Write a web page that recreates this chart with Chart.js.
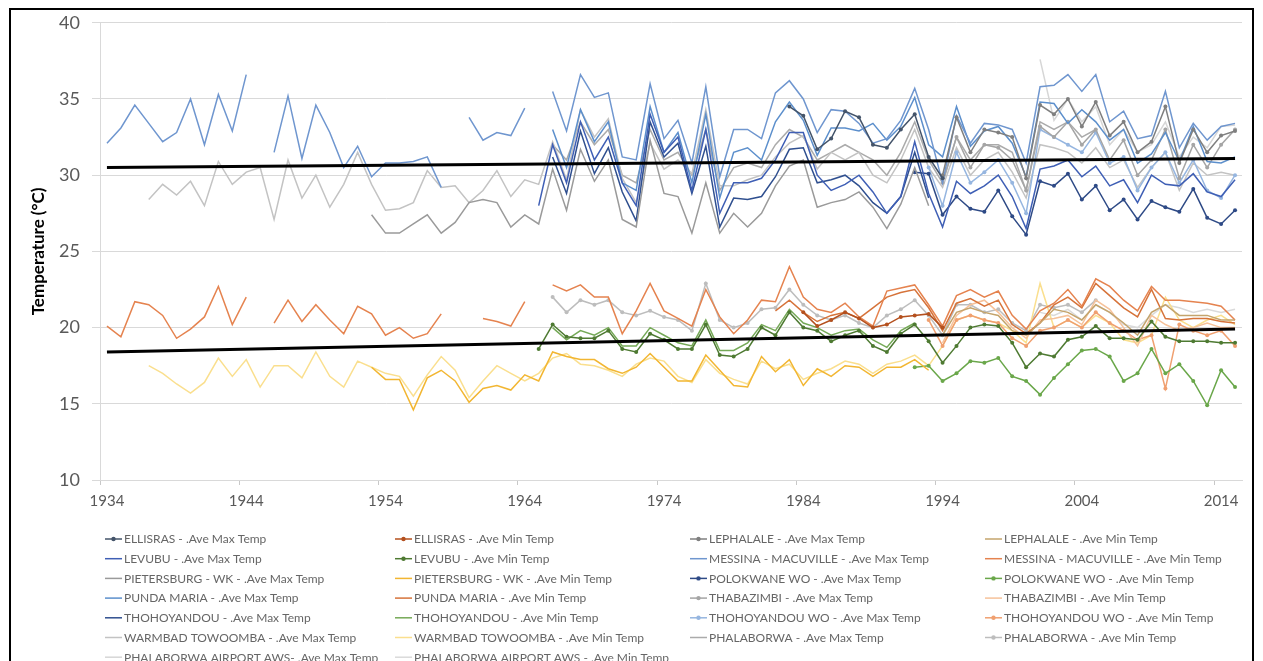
<!DOCTYPE html>
<html>
<head>
<meta charset="utf-8">
<script src="https://cdn.jsdelivr.net/npm/chart.js@4.4.1/dist/chart.umd.min.js"></script>
<style>
  html, body { margin: 0; padding: 0; background: #fff; }
  canvas { display: block; }
</style>
</head>
<body>
<canvas id="tempChart" width="1263" height="661" style="width:1263px;height:661px"></canvas>
<script>
const firstYear = 1934;
const lastYear = 2015;
const years = [];
for (let y = firstYear; y <= lastYear; y++) years.push(String(y));

// pad a series that starts later than 1934 with nulls
function from(start, values) {
  const out = new Array(years.length).fill(null);
  values.forEach((v, i) => {
    const idx = start - firstYear + i;
    if (idx < out.length) out[idx] = v;
  });
  return out;
}

// ---- Ave Max Temp series ----
const ellisrasMax = from(1983, [34.5, 33.9, 31.7, 32.4, 34.2, 33.8, 32.0, 31.8, 33.0, 34.0, 31.2, 29.8]);
const lephalaleMax = from(1994, [30.0, 33.8, 31.5, 33.0, 32.8, 32.5, 29.8, 34.6, 34.0, 35.0, 33.2, 34.8, 32.6, 33.5, 31.5, 32.2, 34.5, 30.8, 33.0, 31.5, 32.6, 32.9]);
const levubuMax = from(1965, [28.0, 32.0, 29.5, 33.5, 31.0, 32.5, 29.5, 28.0, 34.0, 31.5, 32.5, 29.0, 33.0, 27.5, 29.5, 29.5, 29.8, 31.0, 32.8, 32.8, 30.0,
  29.0, 29.4, 30.0, 28.9, 27.5, 28.6, 32.2, 28.8, 26.6, 29.6, 28.8, 29.3, 30.0, 28.6, 26.5, 30.4, 30.6, 31.0, 29.9, 30.6, 29.3, 29.7, 28.2, 30.0, 29.4, 29.3, 30.1, 28.9, 28.6, 29.7]);
const messinaMax = from(1934, [32.1, 33.1, 34.6, 33.4, 32.2, 32.8, 35.0, 32.0, 35.3, 32.9, 36.6, null,
  31.5, 35.2, 31.1, 34.6, 32.8, 30.5, 31.9, 29.9, 30.8, 30.8, 30.9, 31.2, 29.2, null,
  33.8, 32.3, 32.8, 32.6, 34.4, null,
  35.5, 32.9, 36.6, 35.1, 35.4, 31.2, 31.0, 36.0, 32.4, 33.6, 30.8, 35.8, 29.9, 33.0, 33.0, 32.4, 35.4, 36.2, 35.0, 32.8,
  34.3, 34.2, 33.4, 32.1, 32.4, 33.6, 35.7, 33.0, 29.5, 33.9, 32.1, 33.4, 33.3, 33.0, 30.8, 35.8, 35.9, 36.6, 35.5, 36.6, 33.5, 34.2, 32.4, 32.6, 35.5, 31.8, 33.4, 32.3, 33.2, 33.4]);
const pietersburgMax = from(1953, [27.4, 26.2, 26.2, 26.8, 27.4, 26.2, 26.9, 28.2, 28.4, 28.2, 26.6, 27.4, 26.8, 30.4, 27.7, 31.7, 29.6, 31.0, 27.1, 26.6,
  32.3, 28.8, 28.6, 26.2, 29.5, 26.2, 27.5, 26.6, 27.5, 29.3, 30.6, 31.0, 27.9, 28.2, 28.4, 28.9, 27.9, 26.5, 28.1, 30.5, 28.0]);
const polokwaneMax = from(1992, [30.2, 30.1, 27.4, 28.6, 27.8, 27.6, 29.0, 27.3, 26.1, 29.6, 29.3, 30.1, 28.4, 29.3, 27.7, 28.4, 27.1, 28.3, 27.9, 27.6, 29.1, 27.2, 26.8, 27.7]);
const pundaMariaMax = from(1966, [33.0, 30.5, 34.3, 32.2, 33.5, 29.5, 29.0, 34.5, 31.5, 32.8, 29.5, 34.0, 28.5, 31.5, 31.8, 31.0, 33.5, 34.8, 33.6, 31.3,
  33.1, 33.1, 32.9, 33.4, 32.3, 33.2, 35.1, 32.0, 31.2, 34.5, 31.9, 32.9, 33.2, 32.1, 29.9, 34.8, 34.7, 33.4, 34.3, 33.5, 32.3, 33.0, 30.8, 31.4, 32.8, 30.9, 33.2, 30.9, 30.8, 31.2]);
const thabazimbiMax = from(1994, [29.5, 32.5, 30.5, 32.0, 31.8, 31.0, 29.0, 33.2, 32.5, 33.5, 32.0, 33.0, 31.0, 32.3, 30.0, 31.0, 33.0, 29.8, 32.0, 30.5, 32.0, 33.0]);
const thohoyandouMax = from(1966, [31.2, 28.8, 32.9, 30.1, 31.8, 28.9, 27.0, 33.5, 31.2, 32.1, 28.8, 31.9, 26.6, 28.5, 28.4, 28.6, 29.9, 31.7, 31.8, 29.5,
  29.7, 30.0, 29.3, 28.2, 27.5, 28.6, 31.5, 28.5]);
const thohoyandouWoMax = from(1993, [30.5, 28.0, 31.5, 29.5, 30.2, 31.0, 29.5, 27.5, 33.0, 32.5, 32.0, 31.5, 32.8, 30.8, 31.2, 29.0, 30.5, 31.5, 29.5, 31.0, 29.0, 28.5, 30.0]);
const warmbadMax = from(1937, [28.4, 29.4, 28.7, 29.6, 28.0, 30.9, 29.4, 30.2, 30.5, 27.1, 31.0, 28.5, 30.0, 27.9, 29.4, 31.5, 29.4, 27.7, 27.8, 28.2, 30.3, 29.2,
  29.3, 28.2, 29.0,
  30.3, 28.6, 29.7, 29.4, 32.2, 29.7, 34.3, 32.5, 33.7, 29.8, 28.2, 32.1, 30.4, 31.0, 30.1, 34.3, 29.3, 29.3, 29.7, 30.0, 31.2, 32.1, 32.6, 30.4,
  31.5, 31.0, 31.5, 30.0, 29.5, 31.0, 33.0, 30.5, 29.2, 31.8, 30.0, 31.0, 31.5, 30.2, 28.5, 32.0, 31.8, 31.5, 30.8, 31.8, 30.5, 31.0, 29.2, 30.5, 31.5, 29.0, 30.8, 30.0, 30.2, 30.0]);
const phalaborwaMax = from(1966, [32.0, 31.0, 33.5, 32.0, 33.0, 30.0, 29.5, 33.0, 31.0, 31.5, 30.0, 33.0, 29.0, 30.5, 30.8, 30.5, 32.0, 33.0, 32.5, 31.0,
  31.5, 32.0, 31.5, 31.0, 30.0, 31.5, 33.5, 31.0, 29.5, 32.5, 31.0, 32.0, 32.0, 31.5, 29.0, 33.5, 33.0, 33.5, 32.5, 33.0]);
const phalaborwaAwsMax = from(2001, [37.6, 33.6, 35.0, 33.5, 34.5, 32.0, 33.0, 31.5, 32.0, 33.5, 31.2, 32.5, 31.8, 33.2, 33.3]);

// ---- Ave Min Temp series ----
const ellisrasMin = from(1984, [21.0, 20.1, 20.5, 21.0, 20.6, 20.0, 20.2, 20.7, 20.8, 20.9, 20.0]);
const lephalaleMin = from(1994, [19.5, 21.0, 21.3, 21.0, 20.8, 19.8, 19.5, 20.3, 21.2, 21.0, 20.5, 21.5, 21.0, 20.3, 19.5, 21.0, 21.5, 20.8, 20.8, 20.8, 20.5, 20.5]);
const levubuMin = from(1965, [18.6, 20.2, 19.4, 19.3, 19.3, 19.8, 18.6, 18.4, 19.6, 19.2, 18.6, 18.6, 20.2, 18.2, 18.1, 18.6, 20.0, 19.5, 21.0, 20.0, 19.8, 19.1, 19.5,
  19.8, 18.8, 18.4, 19.6, 20.2, 19.1, 17.7, 18.8, 20.0, 20.2, 20.1, 19.0, 17.4, 18.3, 18.1, 19.2, 19.4, 20.1, 19.3, 19.3, 19.2, 20.4, 19.4, 19.1, 19.1, 19.1, 19.0, 19.0]);
const messinaMin = from(1934, [20.1, 19.4, 21.7, 21.5, 20.8, 19.3, 19.9, 20.7, 22.7, 20.2, 22.0, null,
  20.3, 21.8, 20.4, 21.5, 20.5, 19.6, 21.4, 20.9, 19.5, 20.0, 19.3, 19.6, 20.9, null, null,
  20.6, 20.4, 20.1, 21.7, null,
  22.8, 22.4, 22.8, 22.0, 22.0, 19.6, 21.1, 22.9, 21.1, 20.6, 20.1, 22.5, 20.7, 19.6, 20.5, 21.8, 21.7, 24.0, 22.0, 21.2, 21.0, 21.6, 20.7, 20.1,
  22.4, 22.6, 22.8, 21.5, 20.1, 22.1, 22.5, 22.0, 22.4, 20.8, 19.9, 21.1, 21.6, 22.5, 21.4, 23.2, 22.7, 21.8, 21.1, 22.7, 21.8, 21.8, 21.7, 21.6, 21.4, 20.5]);
const pietersburgMin = from(1953, [17.4, 16.6, 16.6, 14.6, 16.7, 17.2, 16.5, 15.1, 16.0, 16.2, 15.9, 16.9, 16.5, 18.4, 18.1, 17.9, 17.9, 17.3, 17.0, 17.4,
  18.3, 17.4, 16.5, 16.5, 18.2, 17.2, 16.2, 16.1, 18.1, 17.1, 17.9, 16.2, 17.3, 16.8, 17.5, 17.4, 16.8, 17.4, 17.4, 17.9, 17.2]);
const polokwaneMin = from(1992, [17.4, 17.5, 16.5, 17.0, 17.8, 17.7, 18.0, 16.8, 16.5, 15.6, 16.7, 17.6, 18.5, 18.6, 18.1, 16.5, 17.0, 18.6, 17.0, 17.6, 16.5, 14.9, 17.2, 16.1]);
const pundaMariaMin = from(1982, [21.1, 21.8, 21.0, 20.4, 20.8, 21.0,
  20.6, 21.3, 22.0, 22.3, 22.5, 21.3, 19.8, 21.6, 21.9, 21.4, 21.8, 20.2, 19.6, 20.3, 21.5, 22.0, 21.3, 22.9, 22.1, 21.3, 20.7, 22.5, 20.6, 20.5, 20.6, 20.6, 20.4, 20.3]);
const thabazimbiMin = from(1994, [19.0, 20.8, 21.5, 21.8, 21.0, 20.0, 19.3, 20.5, 20.6, 20.8, 20.2, 21.8, 21.2, 20.0, 18.8, 20.8, 20.2, 19.8, 20.0, 20.3, 20.0, 20.0]);
const thohoyandouMin = from(1966, [20.0, 19.2, 19.8, 19.5, 20.0, 18.8, 18.8, 20.0, 19.5, 19.0, 18.8, 20.5, 18.5, 18.5, 19.0, 20.2, 19.8, 21.2, 20.3, 20.0,
  19.5, 19.8, 19.9, 19.2, 18.7, 19.8, 20.3]);
const thohoyandouWoMin = from(1993, [20.5, 18.8, 20.5, 20.8, 20.5, 20.3, 19.3, 18.8, 19.8, 20.0, 20.5, 20.0, 21.0, 20.3, 19.8, 19.2, 19.5, 16.0, 20.2, 19.8, 19.5, 19.8, 18.8]);
const warmbadMin = from(1937, [17.5, 17.0, 16.3, 15.7, 16.4, 18.0, 16.8, 17.9, 16.1, 17.5, 17.5, 16.7, 18.4, 16.8, 16.1, 17.8, 17.4,
  17.0, 16.8, 15.5, 16.9, 18.1, 17.2, 15.4, 16.5, 17.5, 17.0, 16.5, 17.0,
  18.0, 18.3, 17.6, 17.5, 17.2, 16.8, 17.6, 18.0, 17.8, 16.8, 16.4, 17.9, 17.0, 16.6, 16.3, 17.8, 17.3, 17.6, 16.6, 17.0, 17.3, 17.8, 17.6, 17.0, 17.6, 17.8, 18.2, 17.5,
  18.8, 20.5, 20.8, 20.5, 20.3, 19.8, 19.0, 22.9, 20.0, 20.5, 20.0, 20.8, 20.3, 19.2, 19.0, 19.5, 22.0, 20.5, 20.0, 20.5, 20.8, 20.2]);
const phalaborwaMin = from(1966, [22.0, 21.0, 21.8, 21.5, 21.8, 21.0, 20.8, 21.1, 20.7, 20.5, 19.8, 22.9, 20.5, 20.0, 20.3, 21.2, 21.3, 22.5, 21.5, 20.8,
  20.5, 20.8, 20.3, 20.0, 20.8, 21.2, 21.8, 20.8, 19.5, 21.5, 21.5, 21.0, 21.2, 20.3, 19.8, 21.5, 21.3, 21.5, 21.0, 21.8]);
const phalaborwaAwsMin = from(2001, [21.0, 20.8, 21.2, 20.5, 21.5, 21.0, 20.2, 20.0, 20.8, 21.5, 21.3, 21.0, 21.2, 21.0, 21.2]);

// linear trend end points (1934 -> 2015)
const maxTrendEnds = [30.5, 31.1];
const minTrendEnds = [18.4, 19.9];

// legend order = Excel series order
const series = [
  ["ELLISRAS - .Ave Max Temp", ellisrasMax, "#44546A", true],
  ["ELLISRAS - .Ave Min Temp", ellisrasMin, "#B4501E", true],
  ["LEPHALALE - .Ave Max Temp", lephalaleMax, "#7F7F7F", true],
  ["LEPHALALE - .Ave Min Temp", lephalaleMin, "#C4A46C", false],
  ["LEVUBU - .Ave Max Temp", levubuMax, "#3F5FB5", false],
  ["LEVUBU - .Ave Min Temp", levubuMin, "#4E7A32", true],
  ["MESSINA - MACUVILLE - .Ave Max Temp", messinaMax, "#6F96CF", false],
  ["MESSINA - MACUVILLE - .Ave Min Temp", messinaMin, "#E5834F", false],
  ["PIETERSBURG - WK - .Ave Max Temp", pietersburgMax, "#9A9A9A", false],
  ["PIETERSBURG - WK - .Ave Min Temp", pietersburgMin, "#F2B632", false],
  ["POLOKWANE WO - .Ave Max Temp", polokwaneMax, "#2E4A86", true],
  ["POLOKWANE WO - .Ave Min Temp", polokwaneMin, "#6AA74A", true],
  ["PUNDA MARIA - .Ave Max Temp", pundaMariaMax, "#5C8FCC", false],
  ["PUNDA MARIA - .Ave Min Temp", pundaMariaMin, "#D6733A", false],
  ["THABAZIMBI - .Ave Max Temp", thabazimbiMax, "#A5A5A5", true],
  ["THABAZIMBI - .Ave Min Temp", thabazimbiMin, "#F6C29A", false],
  ["THOHOYANDOU - .Ave Max Temp", thohoyandouMax, "#2F4F8F", false],
  ["THOHOYANDOU - .Ave Min Temp", thohoyandouMin, "#75A957", false],
  ["THOHOYANDOU WO - .Ave Max Temp", thohoyandouWoMax, "#96B6E0", true],
  ["THOHOYANDOU WO - .Ave Min Temp", thohoyandouWoMin, "#F0A070", true],
  ["WARMBAD TOWOOMBA - .Ave Max Temp", warmbadMax, "#C3C3C3", false],
  ["WARMBAD TOWOOMBA - .Ave Min Temp", warmbadMin, "#FADF8E", false],
  ["PHALABORWA - .Ave Max Temp", phalaborwaMax, "#ABABAB", false],
  ["PHALABORWA - .Ave Min Temp", phalaborwaMin, "#BDBDBD", true],
  ["PHALABORWA AIRPORT AWS- .Ave Max Temp", phalaborwaAwsMax, "#D6D6D6", false],
  ["PHALABORWA AIRPORT AWS - .Ave Min Temp", phalaborwaAwsMin, "#DADADA", false],
];

function trend(ends) {
  const arr = new Array(years.length).fill(null);
  arr[0] = ends[0];
  arr[arr.length - 1] = ends[1];
  return arr;
}

const trendStyle = {
  borderColor: "#000000",
  borderWidth: 3,
  pointRadius: 0,
  spanGaps: true,
  fill: false,
};

const datasets = [
  { label: "trendMax", data: trend(maxTrendEnds), ...trendStyle },
  { label: "trendMin", data: trend(minTrendEnds), ...trendStyle },
].concat(
  series.map(([label, data, color, marker]) => ({
    label: label,
    data: data,
    borderColor: color,
    backgroundColor: color,
    borderWidth: 1.5,
    pointRadius: marker ? 2 : 0,
    pointBorderWidth: 0,
    pointBackgroundColor: color,
    spanGaps: false,
    fill: false,
    tension: 0,
  }))
);

// custom grid legend + outer frame
const excelLegend = {
  id: "excelLegend",
  beforeDraw: (chart) => {
    const { ctx } = chart;
    ctx.save();
    ctx.fillStyle = "#ffffff";
    ctx.fillRect(0, 0, chart.width, chart.height);
    ctx.restore();
  },
  afterDraw: (chart) => {
    const { ctx } = chart;
    const colX = [105, 395, 690, 985];
    const rowY = 539;
    const rowH = 19.7;
    ctx.save();
    ctx.font = "12px Lato";
    ctx.textBaseline = "middle";
    ctx.textAlign = "left";
    series.forEach(([label, data, color, marker], i) => {
      const x = colX[i % 4];
      const y = rowY + Math.floor(i / 4) * rowH;
      ctx.strokeStyle = color;
      ctx.lineWidth = 1.5;
      ctx.beginPath();
      ctx.moveTo(x, y);
      ctx.lineTo(x + 17, y);
      ctx.stroke();
      if (marker) {
        ctx.fillStyle = color;
        ctx.beginPath();
        ctx.arc(x + 8.5, y, 2.2, 0, Math.PI * 2);
        ctx.fill();
      }
      ctx.fillStyle = "#666666";
      ctx.fillText(label, x + 19, y + 0.5);
    });
    // frame round the whole chart
    ctx.strokeStyle = "#000000";
    ctx.lineWidth = 2;
    ctx.strokeRect(10, 9, 1243, 700);
    ctx.restore();
  },
};

Chart.defaults.font.family = "Lato";

const chart = new Chart(document.getElementById("tempChart").getContext("2d"), {
  type: "line",
  data: {
    labels: years,
    datasets: datasets,
  },
  options: {
    responsive: false,
    animation: false,
    layout: {
      padding: { top: 14, right: 21, bottom: 0, left: 24 },
    },
    scales: {
      x: {
        type: "category",
        offset: true,
        afterFit: (scale) => {
          scale.height = 181;
        },
        border: { display: true, color: "#D9D9D9", width: 1 },
        grid: {
          offset: true,
          drawOnChartArea: false,
          drawTicks: true,
          tickLength: 5,
          color: (c) => (c.index % 10 === 0 ? "#C8C8C8" : "rgba(0,0,0,0)"),
        },
        ticks: {
          autoSkip: false,
          maxRotation: 0,
          minRotation: 0,
          padding: 7,
          color: "#595959",
          font: { size: 15 },
          callback: (val, idx) => (idx % 10 === 0 ? years[idx] : ""),
        },
      },
      y: {
        min: 10,
        max: 40,
        afterFit: (scale) => {
          scale.width = 76;
        },
        border: { display: true, color: "#D9D9D9", width: 1 },
        grid: {
          color: "#D9D9D9",
          tickLength: 8,
        },
        ticks: {
          stepSize: 5,
          padding: 12,
          color: "#595959",
          font: { size: 18 },
        },
        title: {
          display: true,
          text: "Temperature (°C)",
          color: "#000000",
          font: { size: 17, weight: "bold" },
        },
      },
    },
    plugins: {
      legend: { display: false },
      tooltip: { enabled: false },
    },
  },
  plugins: [excelLegend],
});
</script>
</body>
</html>
